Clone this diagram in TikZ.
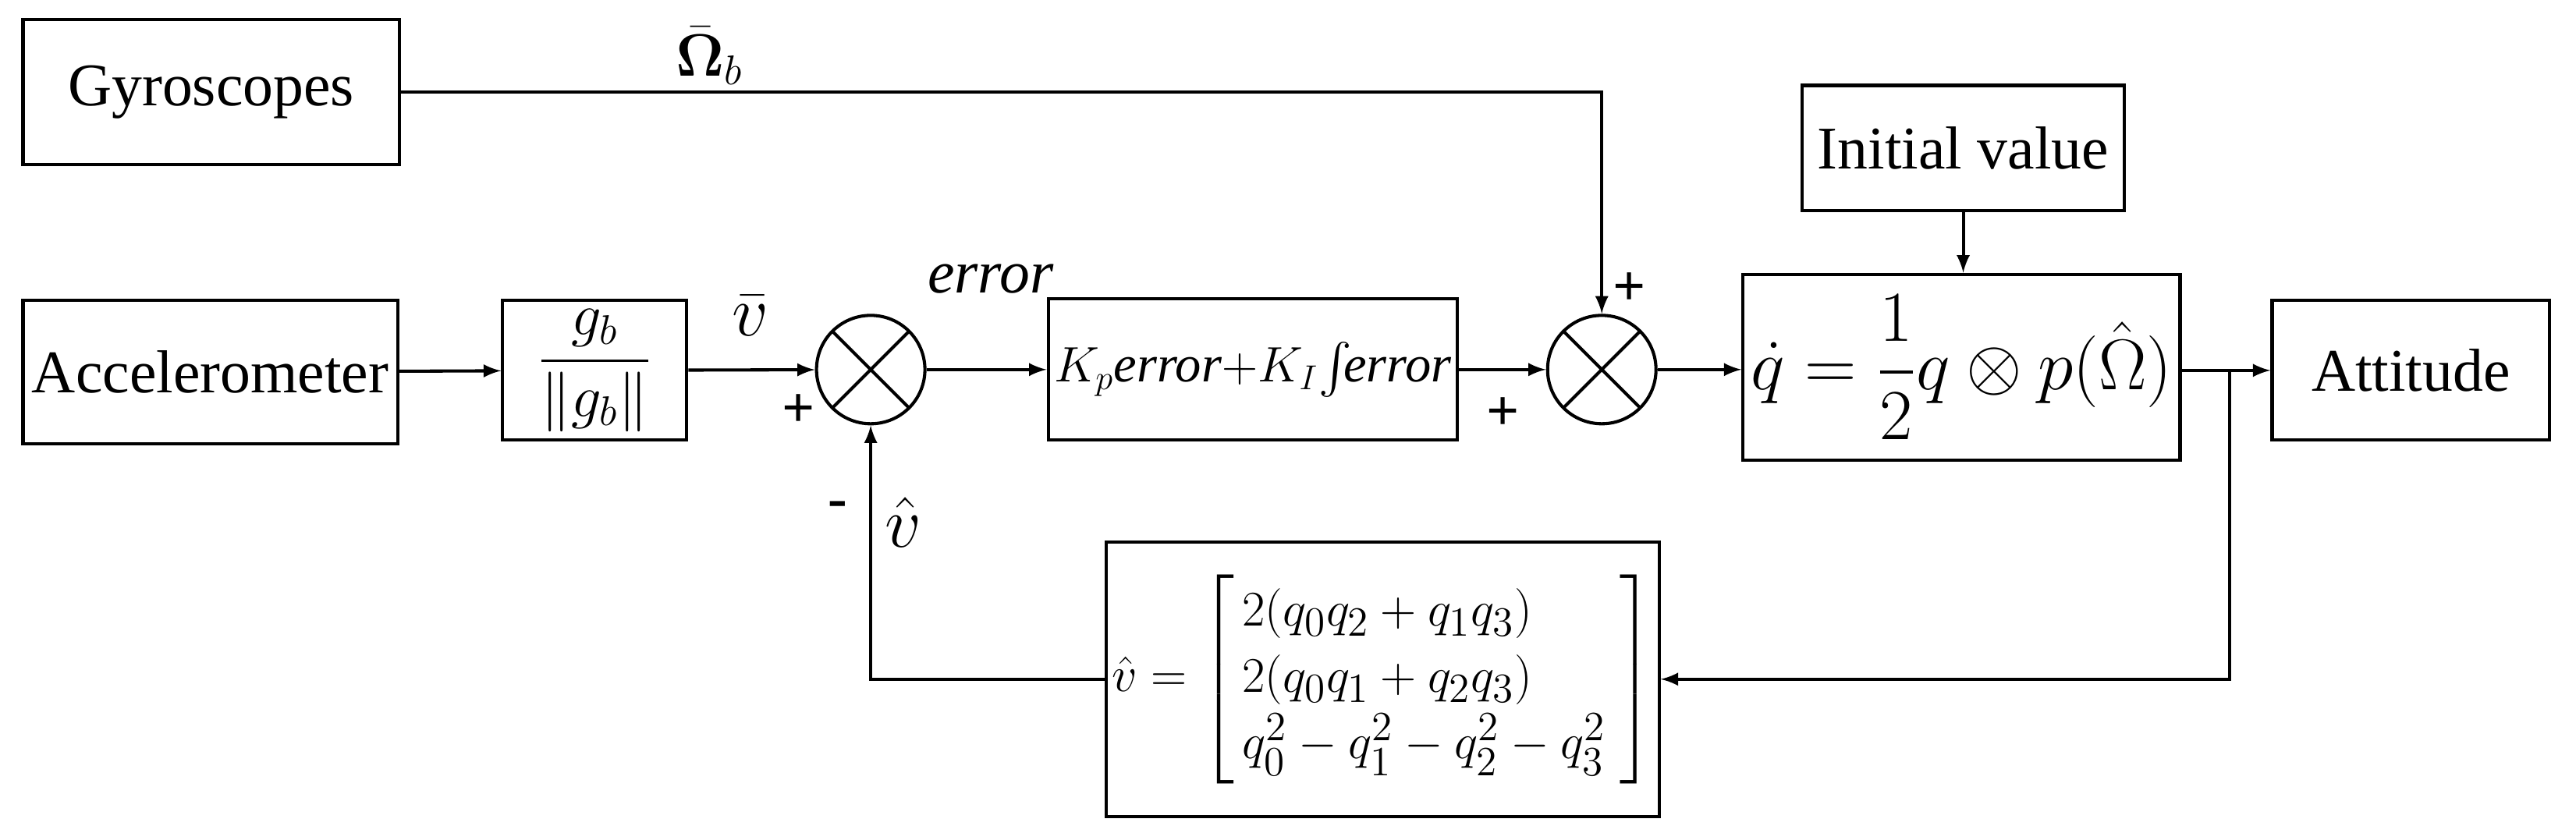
\documentclass[tikz,border=0pt]{standalone}
\usepackage{amsmath}
\usepackage{fontspec}
\setmainfont{Liberation Serif}
\usetikzlibrary{arrows,shapes}

\begin{document}
\begin{tikzpicture}[x=0.02cm,y=-0.02cm,line width=1.1pt,
  font=\fontsize{21}{25}\selectfont,
  block/.style={draw,rectangle,inner sep=2pt},
  sum/.style={draw,circle,minimum size=1.32cm,inner sep=0pt,
    path picture={\draw (path picture bounding box.north west) -- (path picture bounding box.south east)
      (path picture bounding box.north east) -- (path picture bounding box.south west);}},
  sig/.style={font=\bfseries\fontsize{20}{24}\selectfont}]
\useasboundingbox (0,0) rectangle (1568,507);
\node[block,minimum width=4.58cm,minimum height=1.76cm] (gyro) at (128.5,56) {Gyroscopes};
\node[block,minimum width=3.92cm,minimum height=1.52cm] (init) at (1195,90) {Initial value};
\node[block,minimum width=4.56cm,minimum height=1.74cm] (acc) at (128,226.5) {Accelerometer};
\node[block,minimum width=2.24cm,minimum height=1.7cm] (norm) at (362,225.5) {$\dfrac{g_b}{\lVert g_b\rVert}$};
\node[sum] (s1) at (530,225) {};
\node[block,minimum width=4.7cm,minimum height=1.72cm] (ctrl) at (762.5,225)
  {\fontsize{18}{22}\selectfont$K_p$\textit{error}$+K_I\!\int\!$\textit{error}};
\node[sum] (s2) at (975,225) {};
\node[block,minimum width=5.32cm,minimum height=2.26cm] (qd) at (1194,223.5) {\fontsize{23}{28}\selectfont$\dot q=\dfrac{1}{2}q\otimes p(\hat\Omega)$};
\node[block,minimum width=3.38cm,minimum height=1.7cm] (att) at (1467.5,225.5) {Attitude};
\node[block,minimum width=6.34cm,minimum height=3.34cm] (vh) at (841.5,413.5)
  {\fontsize{19}{23}\selectfont$\hat v=\left[\begin{array}{@{\,}l@{\;}}2(q_0q_2+q_1q_3)\\ 2(q_0q_1+q_2q_3)\\ q_0^2-q_1^2-q_2^2-q_3^2\end{array}\right]$};
\coordinate (br) at (1357,225);
% signal labels
\node (om) at (432,34) {$\bar{\boldsymbol\Omega}_b$};
\node (vb) at (457,192) {\fontsize{26}{30}\selectfont$\bar v$};
\node (er) at (603,170) {\itshape error};
\node (vhl) at (550,318) {\fontsize{26}{30}\selectfont$\hat v$};
\node[sig] (p1) at (486,250) {+};
\node[sig] (m1) at (510,310) {-};
\node[sig] (p2) at (915,252) {+};
\node[sig] (p3) at (992,176) {+};
% connectors
\draw[-latex] (acc) -- (norm);
\draw[-latex] (norm) -- (s1);
\draw[-latex] (s1) -- (ctrl);
\draw[-latex] (ctrl) -- (s2);
\draw[-latex] (s2) -- (qd.west |- s2);
\draw[-latex] (gyro.east) -- (s2 |- gyro.east) -- (s2.north);
\draw[-latex] (init) -- (init |- qd.north);
\draw[-latex] (qd.east |- att) -- (att);
\draw[-latex] (br) -- (br |- vh.east) -- (vh.east);
\draw[-latex] (vh.west) -- (s1 |- vh.west) -- (s1.south);
\end{tikzpicture}
\end{document}
